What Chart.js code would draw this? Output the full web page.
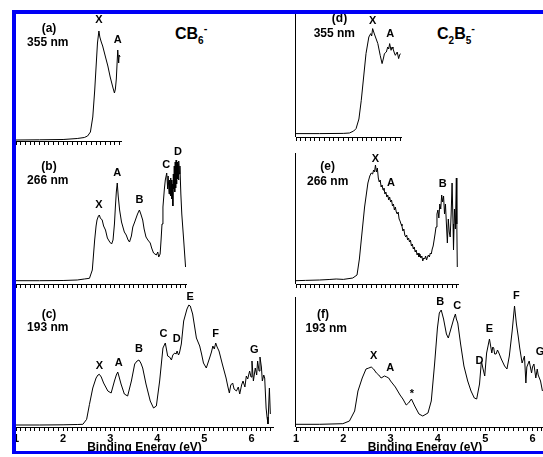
<!DOCTYPE html>
<html lang="en">
<head>
<meta charset="UTF-8">
<title>CB6- and C2B5- photoelectron spectra</title>
<script src="https://cdn.jsdelivr.net/npm/chart.js"></script>
<style>
    html, body { margin: 0; padding: 0; background: #fff; overflow: hidden; }
    body { width: 543px; height: 457px; position: relative; font-family: "Liberation Sans", Arial, sans-serif; }
    canvas { position: absolute; }
    .frame { position: absolute; background: #0000f5; z-index: 5; }
    .species { position: absolute; z-index: 6; font-weight: bold; font-size: 16px; line-height: 16px; white-space: nowrap; color: #000; }
    .species .sub { font-size: 10px; position: relative; top: 5px; }
    .species .sup { font-size: 11px; position: relative; top: -7px; }
</style>
</head>
<body>
<div class="frame" style="left:12px; top:10px; width:600px; height:4px"></div>
<div class="frame" style="left:12px; top:10px; width:4px; height:444px"></div>
<div class="frame" style="left:12px; top:451px; width:600px; height:3px"></div>
<div class="species" style="left:175px; top:26px">CB<span class="sub">6</span><span class="sup">-</span></div>
<div class="species" style="left:437px; top:26px">C<span class="sub">2</span>B<span class="sub">5</span><span class="sup">-</span></div>

<canvas id="pa"></canvas>
<canvas id="pb"></canvas>
<canvas id="pc"></canvas>
<canvas id="pd"></canvas>
<canvas id="pe"></canvas>
<canvas id="pf"></canvas>

<script>
    // ---- spectra: binding energy (eV) and intensity (arb. units) ----
    // (a) CB6- 355 nm
    const eA = [1.00, 1.50, 2.00, 2.30, 2.45, 2.52, 2.58, 2.63, 2.67, 2.70, 2.73, 2.76, 2.78, 2.81, 2.84, 2.90, 2.95, 3.00, 3.06, 3.09, 3.11, 3.13, 3.16, 3.18, 3.19, 3.21];
    const iA = [1, 1.2, 1.5, 2.5, 3.5, 5, 9, 24, 50, 74, 98, 110, 104, 99, 95, 84, 75, 64, 53, 48, 52, 62, 91, 78, 86, 84];

    // (b) CB6- 266 nm
    const eB = [1.00, 1.50, 2.00, 2.30, 2.45, 2.56, 2.62, 2.67, 2.70, 2.72, 2.75, 2.77, 2.79, 2.83, 2.86, 2.90, 2.94, 2.99, 3.03, 3.06,
                3.09, 3.11, 3.13, 3.15, 3.17, 3.20, 3.24, 3.27, 3.30, 3.34, 3.38, 3.41, 3.45, 3.48, 3.52, 3.55, 3.58, 3.62, 3.65, 3.69,
                3.72, 3.76, 3.80, 3.85, 3.88, 3.92, 3.95, 3.98, 4.01, 4.03, 4.06, 4.08, 4.10, 4.12, 4.15, 4.17, 4.20, 4.22, 4.23, 4.25,
                4.26, 4.27, 4.28, 4.29, 4.30, 4.31, 4.32, 4.33, 4.34, 4.35, 4.36, 4.37, 4.38, 4.39, 4.40, 4.41, 4.42, 4.43, 4.44, 4.45,
                4.46, 4.47, 4.48, 4.50, 4.52, 4.56, 4.60];
    const iB = [3.3, 3.3, 3.5, 4, 5, 5.7, 14, 44, 58, 64, 68, 69, 66, 64, 58, 54, 46, 42, 40, 44,
                60, 77, 92, 101, 88, 74, 62, 57, 52, 49, 44, 42, 48, 57, 62, 66, 70, 74, 70, 64,
                55, 47, 44, 41, 36, 31, 30, 29, 32, 27, 30, 44, 60, 77, 95, 104, 111, 95, 108, 90,
                104, 92, 106, 88, 104, 85, 100, 78, 110, 95, 118, 92, 122, 96, 124, 100, 122, 105, 120, 104,
                123, 110, 118, 90, 70, 44, 17];

    // (c) CB6- 193 nm
    const eC = [1.00, 1.50, 2.00, 2.30, 2.42, 2.50, 2.56, 2.63, 2.70, 2.74, 2.77, 2.81, 2.86, 2.95, 3.02, 3.09, 3.13, 3.16, 3.19, 3.23,
                3.30, 3.37, 3.45, 3.52, 3.57, 3.61, 3.65, 3.69, 3.76, 3.85, 3.92, 3.98, 4.05, 4.12, 4.17, 4.22, 4.26, 4.30, 4.33, 4.37,
                4.40, 4.42, 4.45, 4.47, 4.51, 4.56, 4.63, 4.67, 4.70, 4.75, 4.83, 4.90, 4.94, 4.98, 5.04, 5.11, 5.15, 5.18, 5.21, 5.24,
                5.27, 5.31, 5.38, 5.46, 5.50, 5.53, 5.56, 5.60, 5.63, 5.68, 5.72, 5.75, 5.79, 5.82, 5.86, 5.89, 5.92, 5.96, 5.99, 6.01,
                6.04, 6.08, 6.11, 6.13, 6.16, 6.18, 6.21, 6.23, 6.26, 6.28, 6.31, 6.33, 6.35, 6.38, 6.40];
    const iC = [2, 2, 2.2, 2.5, 2.7, 7.7, 22.7, 39, 49, 52, 52.7, 50, 44, 36, 34, 46, 52, 55, 50, 43,
                33, 31, 46, 63, 66, 67, 64, 59, 43, 26, 19, 21, 46, 79, 84, 71, 70, 67, 72, 74,
                73, 76, 72, 74, 83, 106, 118, 122, 121, 113, 89, 81, 73, 64, 59, 69, 75, 81, 78, 84,
                80, 76, 63, 49, 40, 34, 42, 44, 38, 36, 40, 33, 42, 46, 40, 51, 48, 56, 50, 66,
                46, 59, 52, 66, 56, 70, 60, 46, 52, 49, 19, 10, 3, 39, 13];

    // (d) C2B5- 355 nm
    const eD = [1.00, 1.50, 2.00, 2.13, 2.22, 2.27, 2.33, 2.38, 2.43, 2.48, 2.54, 2.58, 2.60, 2.62, 2.65, 2.68, 2.73, 2.78, 2.82, 2.85,
                2.87, 2.91, 2.94, 2.96, 2.98, 3.01, 3.03, 3.05, 3.08, 3.10, 3.14, 3.17, 3.19, 3.21];
    const iD = [3.4, 3.4, 3.6, 4, 6, 8.4, 18, 36.7, 60, 83.4, 100, 103.4, 101, 108.4, 104, 100, 93.4, 81.7, 73.4, 79,
                83.4, 85, 90, 88, 93.4, 86.7, 90, 88.4, 84, 81.7, 85, 78.4, 82, 83.4];

    // (e) C2B5- 266 nm
    const eE = [1.00, 1.20, 1.50, 1.70, 1.85, 2.00, 2.20, 2.29, 2.34, 2.38, 2.45, 2.52, 2.56, 2.59, 2.62, 2.64, 2.66, 2.68, 2.70,
                2.72, 2.74, 2.76, 2.78, 2.80, 2.82, 2.84, 2.86, 2.88, 2.90, 2.92, 2.94, 2.96, 2.98, 3.00, 3.02, 3.04, 3.06, 3.08, 3.10,
                3.12, 3.14, 3.16, 3.18, 3.20, 3.22, 3.24, 3.26, 3.28, 3.30, 3.32, 3.34, 3.36, 3.38, 3.40, 3.42, 3.44, 3.46, 3.48, 3.50,
                3.52, 3.54, 3.56, 3.58, 3.60, 3.62, 3.64, 3.66, 3.68, 3.70, 3.72, 3.74, 3.76, 3.78, 3.80, 3.82, 3.84, 3.86, 3.88, 3.90,
                3.92, 3.94, 3.96, 3.98, 4.00, 4.02, 4.04, 4.06, 4.08, 4.10, 4.12, 4.14, 4.16, 4.18, 4.20, 4.22, 4.24, 4.26, 4.28, 4.30,
                4.32, 4.33, 4.35, 4.37, 4.39, 4.40, 4.41];
    const iE = [3.3, 3.6, 4, 4.5, 5, 4.6, 6, 9, 25, 44, 77, 101, 108, 111, 110, 114, 112, 119, 112,
                116, 106, 102, 104, 97, 99, 94, 96, 90, 92, 87, 89, 84, 87, 82, 84, 78, 80, 74, 77,
                72, 70, 72, 65, 63, 60, 58, 53, 55, 49, 47, 49, 44, 46, 42, 44, 38, 40, 35, 37,
                32, 34, 29, 31, 27, 30, 26, 28, 23, 26, 25, 28, 24, 27, 29, 27, 31, 30, 35, 38,
                44, 50, 57, 70, 74, 66, 80, 75, 89, 82, 88, 70, 80, 60, 41, 65, 52, 47, 70, 101,
                60, 34, 75, 55, 106, 60, 17];

    // (f) C2B5- 193 nm
    const eF = [1.00, 1.50, 1.99, 2.13, 2.24, 2.31, 2.40, 2.48, 2.54, 2.59, 2.64, 2.70, 2.75, 2.80, 2.87, 2.92, 2.96, 3.00, 3.05, 3.10,
                3.15, 3.20, 3.26, 3.33, 3.38, 3.44, 3.51, 3.60, 3.68, 3.79, 3.86, 3.93, 3.99, 4.03, 4.07, 4.12, 4.18, 4.22, 4.28, 4.34,
                4.37, 4.39, 4.42, 4.48, 4.55, 4.63, 4.70, 4.77, 4.82, 4.88, 4.92, 4.95, 4.99, 5.03, 5.09, 5.14, 5.16, 5.18, 5.20, 5.23,
                5.26, 5.29, 5.34, 5.41, 5.46, 5.51, 5.57, 5.62, 5.66, 5.70, 5.73, 5.78, 5.83, 5.86, 5.88, 5.93, 5.98, 6.00, 6.03, 6.07,
                6.10, 6.12, 6.17, 6.21];
    const iF = [2.7, 2.7, 3.3, 6, 16, 36, 49, 58, 59, 60, 58, 54, 52, 49, 51, 50, 49, 46, 43, 40,
                36, 32, 28, 22, 24, 28, 21, 13, 11, 14, 26, 63, 99, 114, 117, 108, 93, 89, 99, 109,
                113, 108, 104, 83, 61, 46, 36, 29, 28, 43, 66, 59, 51, 74, 88, 74, 80, 79, 73, 73,
                77, 74, 68, 61, 58, 71, 96, 121, 103, 90, 79, 64, 71, 44, 60, 66, 54, 60, 63, 49,
                58, 52, 46, 36];

    // ---- peak labels (name, energy, height) ----
    const peaksA = ['X', 'A'];
    const peaksAE = [2.76, 3.16];
    const peaksAH = [121, 101.5];
    const peaksB = ['X', 'A', 'B', 'C', 'D'];
    const peaksBE = [2.76, 3.15, 3.62, 4.19, 4.44];
    const peaksBH = [79, 110.7, 84, 119, 131.7];
    const peaksC = ['X', 'A', 'B', 'C', 'D', 'E', 'F', 'G'];
    const peaksCE = [2.77, 3.18, 3.61, 4.13, 4.41, 4.70, 5.24, 6.06];
    const peaksCH = [61, 64.3, 77.7, 92.7, 88.3, 130, 92.7, 76.7];
    const peaksD = ['X', 'A'];
    const peaksDE = [2.62, 2.99];
    const peaksDH = [116, 103.4];
    const peaksE = ['X', 'A', 'B'];
    const peaksEE = [2.68, 3.01, 4.10];
    const peaksEH = [124.7, 101.3, 100];
    const peaksF = ['X', 'A', '*', 'B', 'C', 'D', 'E', 'F', 'G'];
    const peaksFE = [2.64, 2.99, 3.45, 4.05, 4.41, 4.88, 5.09, 5.66, 6.16];
    const peaksFH = [71, 59.3, 33.3, 125.3, 121, 66, 97.7, 131, 75.3];

    // panel tags and wavelengths
    const tags = ['(a)', '(b)', '(c)', '(d)', '(e)', '(f)'];
    const wavelengths = ['355 nm', '266 nm', '193 nm', '355 nm', '266 nm', '193 nm'];
    const tagE = [1.70, 1.70, 1.70, 1.92, 1.67, 1.57];
    const tagH = [112.5, 117.3, 112.7, 118.4, 117.3, 112.7];
    const wlE = [1.675, 1.675, 1.675, 1.81, 1.67, 1.64];
    const wlH = [98.5, 103.3, 99.3, 103.4, 102.3, 98.7];

    const FONT = '"Liberation Sans", Arial, sans-serif';
    Chart.defaults.font.family = FONT;
    Chart.defaults.color = '#000';

    // draws the peak letters, panel tag, wavelength, and (right column) the y axis line
    const panelText = {
        id: 'panelText',
        afterDraw(chart, args, opts) {
            const { ctx, chartArea, scales: { x, y } } = chart;
            ctx.save();
            ctx.fillStyle = '#000';
            ctx.textAlign = 'center';
            ctx.textBaseline = 'middle';
            ctx.font = 'bold 12px ' + FONT;
            ctx.fillText(opts.tag, x.getPixelForValue(opts.tagE), y.getPixelForValue(opts.tagH));
            ctx.fillText(opts.wl, x.getPixelForValue(opts.wlE), y.getPixelForValue(opts.wlH));
            ctx.font = 'bold 11px ' + FONT;
            opts.names.forEach((n, i) => {
                ctx.fillText(n, x.getPixelForValue(opts.e[i]), y.getPixelForValue(opts.h[i]));
            });
            if (opts.yLine) {
                ctx.strokeStyle = '#000';
                ctx.lineWidth = 1;
                ctx.beginPath();
                ctx.moveTo(chartArea.left - 0.5, chartArea.top);
                ctx.lineTo(chartArea.left - 0.5, chartArea.bottom);
                ctx.stroke();
            }
            ctx.restore();
        }
    };

    const PAD_L = 10, PAD_R = 10, PAD_T = 14;

    function makePanel(id, geo, energies, counts, peaks, peaksE, peaksH, k) {
        const w = Math.round((geo.xmax - 1) * geo.ppe);
        const h = geo.axis - geo.top;
        const axisH = geo.labels ? 28 : 5;
        const canvas = document.getElementById(id);
        canvas.width = w + PAD_L + PAD_R;
        canvas.height = PAD_T + h + axisH;
        canvas.style.left = (geo.left - PAD_L) + 'px';
        canvas.style.top = (geo.top - PAD_T) + 'px';

        return new Chart(canvas.getContext('2d'), {
            type: 'line',
            data: {
                datasets: [{
                    data: energies.map((e, i) => ({ x: e, y: counts[i] })),
                    borderColor: '#000',
                    borderWidth: 1,
                    pointRadius: 0,
                    tension: 0,
                    fill: false
                }]
            },
            options: {
                responsive: false,
                animation: false,
                layout: { padding: { left: PAD_L, right: PAD_R, top: PAD_T, bottom: 0 } },
                plugins: {
                    legend: { display: false },
                    tooltip: { enabled: false },
                    panelText: {
                        tag: tags[k], tagE: tagE[k], tagH: tagH[k],
                        wl: wavelengths[k], wlE: wlE[k], wlH: wlH[k],
                        names: peaks, e: peaksE, h: peaksH,
                        yLine: geo.yLine
                    }
                },
                scales: {
                    x: {
                        type: 'linear',
                        min: 1,
                        max: 1 + w / geo.ppe,
                        afterFit(scale) { scale.height = axisH; },
                        border: { display: true, color: '#000', width: 1 },
                        grid: { display: true, drawOnChartArea: false, drawTicks: true, tickLength: 4, tickColor: '#000', tickWidth: 1 },
                        ticks: {
                            stepSize: 0.1,
                            autoSkip: false,
                            includeBounds: false,
                            maxRotation: 0,
                            padding: 1,
                            display: geo.labels,
                            font: { size: 11, weight: 'bold' },
                            callback: v => Math.abs(v - Math.round(v)) < 1e-6 ? String(Math.round(v)) : ''
                        },
                        title: {
                            display: geo.labels,
                            text: 'Binding Energy (eV)',
                            padding: 0,
                            font: { size: 12, weight: 'bold' }
                        }
                    },
                    y: { display: false, min: 0, max: h }
                }
            },
            plugins: [panelText]
        });
    }

    makePanel('pa', { left: 16, top: 15, axis: 141, xmax: 3.23, ppe: 47.1, labels: false, yLine: false }, eA, iA, peaksA, peaksAE, peaksAH, 0);
    makePanel('pb', { left: 16, top: 145, axis: 284, xmax: 4.61, ppe: 47.1, labels: false, yLine: false }, eB, iB, peaksB, peaksBE, peaksBH, 1);
    makePanel('pc', { left: 16, top: 288, axis: 427, xmax: 6.45, ppe: 47.1, labels: true, yLine: false }, eC, iC, peaksC, peaksCE, peaksCH, 2);
    makePanel('pd', { left: 296, top: 14, axis: 137, xmax: 3.23, ppe: 47.3, labels: false, yLine: true }, eD, iD, peaksD, peaksDE, peaksDH, 3);
    makePanel('pe', { left: 296, top: 153, axis: 284, xmax: 4.42, ppe: 47.3, labels: false, yLine: true }, eE, iE, peaksE, peaksEE, peaksEH, 4);
    makePanel('pf', { left: 296, top: 297, axis: 427, xmax: 6.45, ppe: 47.3, labels: true, yLine: true }, eF, iF, peaksF, peaksFE, peaksFH, 5);
</script>
</body>
</html>
